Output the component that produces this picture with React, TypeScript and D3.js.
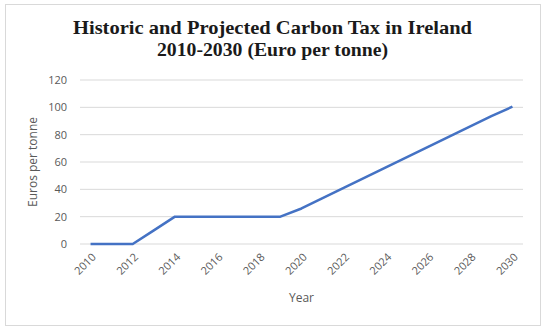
import React, { useRef, useEffect } from "react";
import * as d3 from "d3";

const width = 550;
const height = 332;
const margin = { top: 80, left: 80, bottom: 88, right: 27 };

const years = [
  2010, 2011, 2012, 2013, 2014, 2015, 2016, 2017, 2018, 2019, 2020,
  2021, 2022, 2023, 2024, 2025, 2026, 2027, 2028, 2029, 2030,
];
const tax = [
  0, 0, 0, 10, 20, 20, 20, 20, 20, 20, 26,
  33.5, 41, 48.5, 56, 63.5, 71, 78.5, 86, 93.5, 100.5,
];
const yTicks = [0, 20, 40, 60, 80, 100, 120];
const xTickYears = [2010, 2012, 2014, 2016, 2018, 2020, 2022, 2024, 2026, 2028, 2030];
const titleLines = [
  "Historic and Projected Carbon Tax in Ireland",
  "2010-2030 (Euro per tonne)",
];
const titleWidths = [399, 231];

const App = () => {
  const ref = useRef<SVGSVGElement>(null);

  useEffect(() => {
    const svg = d3.select(ref.current);
    svg.selectAll("*").remove();
    draw(svg);
  }, []);

  const draw = (svg: any) => {
    const iwidth = width - margin.left - margin.right;
    const iheight = height - margin.top - margin.bottom;

    svg.append("rect")
      .attr("x", 5.5).attr("y", 4.5)
      .attr("width", 535).attr("height", 321)
      .attr("fill", "#fff")
      .attr("stroke", "#d9d9d9");

    // title, stretched a little to match the wider Garamond of the original
    svg.append("g")
      .selectAll("text")
      .data(titleLines)
      .enter()
      .append("text")
      .attr("x", 272.5)
      .attr("y", (d: string, i: number) => 34 + i * 22)
      .attr("font-family", "'Liberation Serif', serif")
      .attr("font-weight", "bold")
      .attr("font-size", 19)
      .attr("fill", "#1a1a1a")
      .attr("text-anchor", "middle")
      .attr("textLength", (d: string, i: number) => titleWidths[i])
      .attr("lengthAdjust", "spacingAndGlyphs")
      .text((d: string) => d);

    const g = svg.append("g")
      .attr("transform", `translate(${margin.left},${margin.top})`);

    const x = d3.scalePoint<number>()
      .domain(years)
      .range([0, iwidth])
      .padding(0.5);

    const y = d3.scaleLinear().domain([0, 120]).range([iheight, 0]);

    g.selectAll("line.grid")
      .data(yTicks)
      .enter()
      .append("line")
      .attr("class", "grid")
      .attr("x1", 0).attr("x2", iwidth)
      .attr("y1", (d: number) => y(d)).attr("y2", (d: number) => y(d))
      .attr("stroke", "#d9d9d9")
      .attr("stroke-width", 1);

    const yAxis = g.append("g")
      .call(d3.axisLeft(y).tickValues(yTicks).tickSize(0).tickPadding(13));
    yAxis.select(".domain").remove();
    yAxis.selectAll("text")
      .attr("font-family", "'Open Sans', sans-serif")
      .attr("font-size", 11)
      .attr("fill", "#595959");

    const xAxis = g.append("g")
      .attr("transform", `translate(0,${iheight})`)
      .call(d3.axisBottom(x).tickValues(xTickYears).tickSize(0).tickFormat(d3.format("d")));
    xAxis.select(".domain").remove();
    xAxis.selectAll("text")
      .attr("font-family", "'Open Sans', sans-serif")
      .attr("font-size", 11)
      .attr("fill", "#595959")
      .attr("text-anchor", "end")
      .attr("x", 0)
      .attr("y", 0)
      .attr("dy", "0.35em")
      .attr("transform", "translate(3,11) rotate(-45)");

    const line = d3.line<number>()
      .x((d, i) => x(years[i]) as number)
      .y((d) => y(d));

    g.append("path")
      .datum(tax)
      .attr("d", line)
      .attr("fill", "none")
      .attr("stroke", "#4472c4")
      .attr("stroke-width", 2.5)
      .attr("stroke-linejoin", "round");

    svg.append("text")
      .attr("x", margin.left + iwidth / 2)
      .attr("y", 302)
      .attr("text-anchor", "middle")
      .attr("font-family", "'Open Sans', sans-serif")
      .attr("font-size", 12)
      .attr("fill", "#595959")
      .text("Year");

    svg.append("text")
      .attr("transform", `translate(37,${margin.top + iheight / 2}) rotate(-90)`)
      .attr("text-anchor", "middle")
      .attr("font-family", "'Open Sans', sans-serif")
      .attr("font-size", 12)
      .attr("fill", "#595959")
      .text("Euros per tonne");
  };

  return (
    <div style={{ position: "absolute", left: 0, top: 0, background: "#fff" }}>
      <svg ref={ref} width={width} height={height} style={{ display: "block" }}></svg>
    </div>
  );
};
export default App;
